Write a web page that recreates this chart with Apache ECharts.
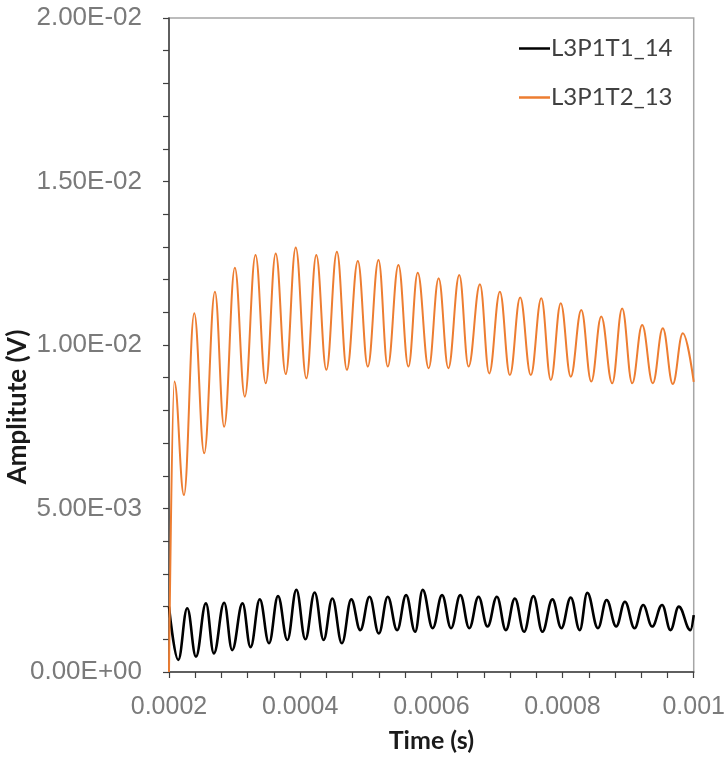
<!DOCTYPE html>
<html>
<head>
<meta charset="utf-8">
<script src="https://cdn.jsdelivr.net/npm/echarts@6/dist/echarts.min.js"></script>
<style>
  html, body { margin: 0; padding: 0; background: #ffffff; }
  #chart { width: 728px; height: 759px; }
</style>
</head>
<body>
<div id="chart"></div>
<script>
// Series names
const seriesNames = ['L3P1T1_14', 'L3P1T2_13'];

// L3P1T1_14 : time (s) and amplitude (V) at the turning points of the trace
const t1Time = [
  0.0002000, 0.0002141, 0.0002278, 0.0002411, 0.0002563, 0.0002684, 0.0002841, 0.0002963,
  0.0003121, 0.0003243, 0.0003384, 0.0003525, 0.0003662, 0.0003805, 0.0003942, 0.0004079,
  0.0004221, 0.0004357, 0.0004490, 0.0004636, 0.0004779, 0.0004916, 0.0005057, 0.0005199,
  0.0005335, 0.0005478, 0.0005615, 0.0005752, 0.0005868, 0.0006020, 0.0006163, 0.0006300,
  0.0006441, 0.0006578, 0.0006719, 0.0006856, 0.0006999, 0.0007136, 0.0007273, 0.0007414,
  0.0007556, 0.0007693, 0.0007845, 0.0007982, 0.0008125, 0.0008262, 0.0008377, 0.0008540,
  0.0008672, 0.0008818, 0.0008951, 0.0009098, 0.0009229, 0.0009366, 0.0009518, 0.0009646,
  0.0009772, 0.0009950, 0.0010000
];
const t1Amp = [
  0.00200, 0.00037, 0.00195, 0.00047, 0.00210, 0.00057, 0.00212, 0.00067,
  0.00210, 0.00076, 0.00222, 0.00088, 0.00232, 0.00098, 0.00251, 0.00100,
  0.00243, 0.00098, 0.00225, 0.00088, 0.00222, 0.00128, 0.00230, 0.00118,
  0.00230, 0.00128, 0.00235, 0.00123, 0.00251, 0.00134, 0.00235, 0.00134,
  0.00235, 0.00134, 0.00230, 0.00139, 0.00230, 0.00128, 0.00225, 0.00123,
  0.00232, 0.00123, 0.00222, 0.00134, 0.00228, 0.00128, 0.00242, 0.00134,
  0.00220, 0.00139, 0.00215, 0.00134, 0.00205, 0.00139, 0.00205, 0.00128,
  0.00200, 0.00128, 0.00174
];

// L3P1T2_13 : time (s) and amplitude (V) at the turning points of the trace
const t2Time = [
  0.0002000, 0.0002081, 0.0002228, 0.0002385, 0.0002537, 0.0002700, 0.0002841, 0.0003004,
  0.0003156, 0.0003319, 0.0003475, 0.0003627, 0.0003780, 0.0003932, 0.0004094, 0.0004246,
  0.0004399, 0.0004560, 0.0004712, 0.0004879, 0.0005031, 0.0005194, 0.0005335, 0.0005498,
  0.0005650, 0.0005792, 0.0005959, 0.0006111, 0.0006259, 0.0006426, 0.0006567, 0.0006741,
  0.0006882, 0.0007045, 0.0007197, 0.0007354, 0.0007516, 0.0007676, 0.0007821, 0.0007973,
  0.0008125, 0.0008286, 0.0008438, 0.0008590, 0.0008757, 0.0008909, 0.0009062, 0.0009214,
  0.0009376, 0.0009529, 0.0009681, 0.0009833, 0.0010000
];
const t2Amp = [
  0.00000, 0.00888, 0.00541, 0.01097, 0.00669, 0.01163, 0.00750, 0.01236,
  0.00842, 0.01275, 0.00883, 0.01280, 0.00911, 0.01298, 0.00898, 0.01275,
  0.00924, 0.01285, 0.00924, 0.01257, 0.00934, 0.01260, 0.00934, 0.01245,
  0.00934, 0.01221, 0.00929, 0.01204, 0.00929, 0.01214, 0.00934, 0.01186,
  0.00913, 0.01163, 0.00908, 0.01145, 0.00908, 0.01143, 0.00893, 0.01128,
  0.00903, 0.01107, 0.00888, 0.01087, 0.00883, 0.01112, 0.00883, 0.01061,
  0.00883, 0.01051, 0.00881, 0.01036, 0.00887
];

// Axis ticks and their labels
const xTickValues = [0.0002, 0.0004, 0.0006, 0.0008, 0.001];
const xTickLabels = ['0.0002', '0.0004', '0.0006', '0.0008', '0.001'];
const yTickValues = [0, 0.005, 0.01, 0.015, 0.02];
const yTickLabels = ['0.00E+00', '5.00E-03', '1.00E-02', '1.50E-02', '2.00E-02'];

const seriesColors = ['#000000', '#ED7D31'];

function labelFor(values, labels, v) {
  for (let i = 0; i < values.length; i++) {
    if (Math.abs(values[i] - v) < 1e-9) return labels[i];
  }
  return '';
}

function zip(xs, ys) {
  return xs.map((x, i) => [x, ys[i]]);
}

const chart = echarts.init(document.getElementById('chart'), null, { renderer: 'canvas' });

const axisLineColor = '#404040';
const labelColor = '#7a7a7a';

chart.setOption({
  animation: false,
  backgroundColor: '#ffffff',
  grid: {
    left: 169, right: 33, top: 18, bottom: 87,
    show: true, borderColor: '#a6a6a6', borderWidth: 1.5, backgroundColor: 'transparent'
  },
  legend: {
    orient: 'vertical',
    left: 514,
    top: 31,
    icon: 'rect',
    itemWidth: 31,
    itemHeight: 2.5,
    itemGap: 24,
    data: seriesNames,
    textStyle: { fontFamily: 'Lato', fontSize: 24, color: '#404040', lineHeight: 25, padding: [0, 0, 0, -4] }
  },
  xAxis: {
    type: 'value',
    min: 0.0002, max: 0.001, interval: 0.0002,
    name: 'Time (s)',
    nameLocation: 'middle',
    nameGap: 56,
    nameTextStyle: { fontFamily: 'Lato', fontWeight: 'bold', fontSize: 25, color: '#1a1a1a' },
    axisLine: { show: true, onZero: false, lineStyle: { color: axisLineColor, width: 1.5 } },
    axisTick: { show: true, length: 6, lineStyle: { color: axisLineColor, width: 1.2 } },
    minorTick: { show: true, splitNumber: 5, length: 6, lineStyle: { color: axisLineColor, width: 1.2 } },
    splitLine: { show: false },
    axisLabel: {
      margin: 23,
      fontFamily: 'Liberation Sans', fontSize: 25, color: labelColor,
      formatter: v => labelFor(xTickValues, xTickLabels, v)
    }
  },
  yAxis: {
    type: 'value',
    min: 0, max: 0.02, interval: 0.005,
    axisLine: { show: true, lineStyle: { color: axisLineColor, width: 1.5 } },
    axisTick: { show: true, length: 6, lineStyle: { color: axisLineColor, width: 1.2 } },
    minorTick: { show: true, splitNumber: 5, length: 6, lineStyle: { color: axisLineColor, width: 1.2 } },
    splitLine: { show: false },
    axisLabel: {
      margin: 27,
      fontFamily: 'Liberation Sans', fontSize: 26, color: labelColor,
      formatter: v => labelFor(yTickValues, yTickLabels, v)
    }
  },
  graphic: [{
    type: 'text',
    x: 18,
    y: 407,
    rotation: Math.PI / 2,
    style: {
      text: 'Amplitute (V)',
      fontFamily: 'Lato', fontWeight: 'bold', fontSize: 26, fill: '#1a1a1a',
      textAlign: 'center', textVerticalAlign: 'middle'
    }
  }],
  series: [
    {
      name: seriesNames[0],
      type: 'line',
      data: zip(t1Time, t1Amp),
      showSymbol: false,
      smooth: 0.4,
      smoothMonotone: 'x',
      lineStyle: { color: seriesColors[0], width: 2.6 },
      itemStyle: { color: seriesColors[0] },
      z: 2
    },
    {
      name: seriesNames[1],
      type: 'line',
      data: zip(t2Time, t2Amp),
      showSymbol: false,
      smooth: 0.4,
      smoothMonotone: 'x',
      lineStyle: { color: seriesColors[1], width: 2 },
      itemStyle: { color: seriesColors[1] },
      z: 3
    }
  ]
});
</script>
</body>
</html>
